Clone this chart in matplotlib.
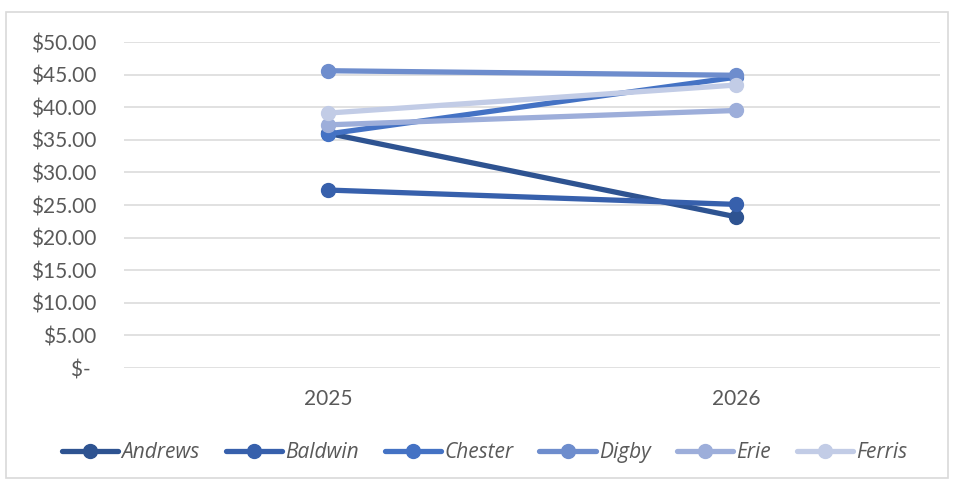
import matplotlib.pyplot as plt
from matplotlib.ticker import FuncFormatter, MultipleLocator
from matplotlib.patches import Rectangle

years = ['2025', '2026']
teams = ['Andrews', 'Baldwin', 'Chester', 'Digby', 'Erie', 'Ferris']
andrews = [36.0, 23.2]
baldwin = [27.3, 25.1]
chester = [35.9, 44.6]
digby = [45.6, 44.9]
erie = [37.3, 39.5]
ferris = [39.1, 43.4]
colors = ['#2E5391', '#3760AC', '#4472C4', '#6E8DCD', '#9DAEDA', '#C2CCE6']

plt.rcParams['font.family'] = ['Lato', 'DejaVu Sans']

fig = plt.figure(figsize=(9.54, 4.83), dpi=100)
ax = fig.add_axes([0.130, 0.238, 0.855, 0.675])

# outer chart border
fig.patches.append(Rectangle((0.006, 0.010), 0.988, 0.965, transform=fig.transFigure,
                             fill=False, edgecolor='#D9D9D9', linewidth=1.2))

x = list(range(len(years)))
series = [andrews, baldwin, chester, digby, erie, ferris]
for name, vals, c in zip(teams, series, colors):
    ax.plot(x, vals, color=c, linewidth=3.8, marker='o', markersize=10,
            label=name, clip_on=False, zorder=3, solid_capstyle='round')

ax.set_xlim(-0.5, 1.5)
ax.set_ylim(0, 50)
ax.yaxis.set_major_locator(MultipleLocator(5))
ax.yaxis.set_major_formatter(FuncFormatter(lambda v, p: '$- ' if v == 0 else f'${v:.2f}'))
ax.set_xticks(x)
ax.set_xticklabels(years)
ax.grid(axis='y', color='#D9D9D9', linewidth=1.1)
ax.set_axisbelow(True)
for s in ax.spines.values():
    s.set_visible(False)
ax.tick_params(axis='y', length=0, pad=20, labelsize=15, labelcolor='#595959')
ax.tick_params(axis='x', length=0, pad=15, labelsize=15, labelcolor='#595959')

leg = fig.legend(loc='center', bbox_to_anchor=(0.508, 0.063), ncol=6, frameon=False,
                 handlelength=2.7, columnspacing=1.25, handletextpad=0.15,
                 prop={'family': ['Open Sans', 'DejaVu Sans'], 'style': 'italic', 'size': 15})
for t in leg.get_texts():
    t.set_color('#595959')

plt.savefig('out.png', dpi=100)
